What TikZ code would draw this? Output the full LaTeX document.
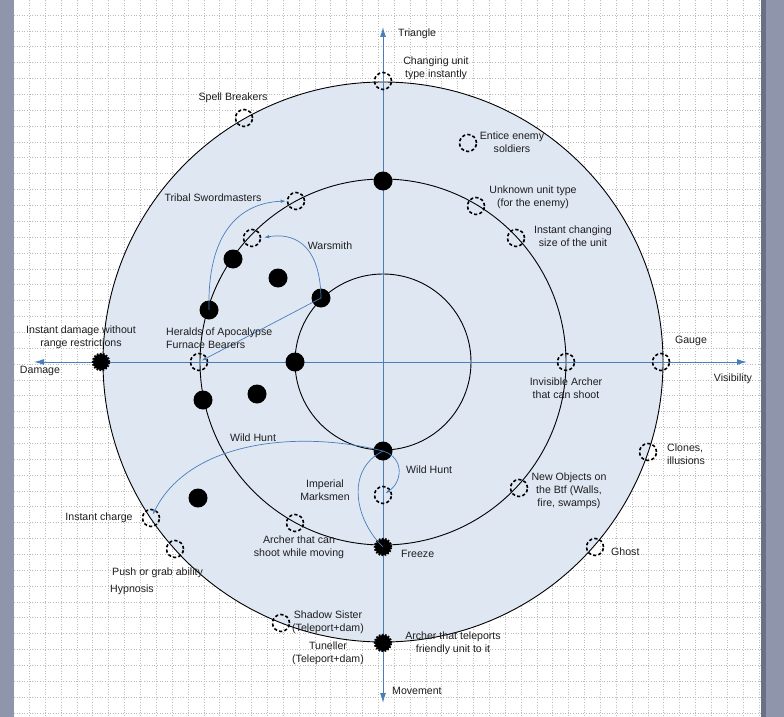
\documentclass[tikz,border=0pt]{standalone}
\usepackage{fontspec}
\setmainfont{Liberation Sans}
\usetikzlibrary{arrows.meta}
\definecolor{axisblue}{HTML}{4A7EBB}
\definecolor{discfill}{HTML}{DFE7F3}
\definecolor{marginc}{HTML}{8F96AB}
\definecolor{margindark}{HTML}{6B7084}
\definecolor{gridc}{HTML}{BDBDBD}
\definecolor{txt}{HTML}{1E1E1E}
\begin{document}
\begin{tikzpicture}[x=1pt,y=-1pt,
  gridline/.style={gridc,line width=0.5pt,dash pattern=on 1pt off 1.6pt},
  ring/.style={black,line width=0.9pt},
  axis/.style={axisblue,line width=1pt,{Latex[length=10pt,width=6pt]}-{Latex[length=10pt,width=6pt]}},
  dot/.style={circle,fill=black,minimum size=19pt,inner sep=0pt},
  jag/.style={circle,fill=black,draw=black,line width=2.4pt,dash pattern=on 1.6pt off 1.4pt,minimum size=16pt,inner sep=0pt},
  hole/.style={circle,draw=black,line width=1.6pt,dash pattern=on 3.2pt off 2.2pt,minimum size=17pt,inner sep=0pt},
  lbl/.style={inner sep=0pt,text=txt,align=center,font=\fontsize{10.6}{13}\selectfont},
  link/.style={axisblue,line width=0.7pt},
  linkarrow/.style={link,-{Latex[length=5pt,width=3.5pt]}}
]
\useasboundingbox (0,0) rectangle (784,717);
% page and margins
\fill[marginc] (0,0) rectangle (784,717);
\fill[white] (14,0) rectangle (761,717);
\fill[margindark] (761,0) rectangle (766,717);
% grid
\foreach \k in {0,...,46} {\draw[gridline] ({29.3+15.86*\k},0) -- ({29.3+15.86*\k},717);}
\foreach \k in {0,...,44} {\draw[gridline] (14,{15+15.86*\k}) -- (761,{15+15.86*\k});}
% disc and rings
\fill[discfill] (383,362) circle[radius=280];
\draw[ring] (383,362) circle[radius=280];
\draw[ring] (383,362) circle[radius=183];
\draw[ring] (383,362) circle[radius=88];
% axes
\coordinate (axL) at (34,362);
\coordinate (axR) at (747,362);
\coordinate (axT) at (383,27);
\coordinate (axB) at (383,703);
\draw[axis] (axL) -- (axR);
\draw[axis] (axT) -- (axB);
% black dots
\node[dot] (d1) at (383,181) {};
\node[dot] (d2) at (321,298) {};
\node[dot] (d3) at (278,278) {};
\node[dot] (d4) at (233,259) {};
\node[dot] (d5) at (209,310) {};
\node[dot] (d6) at (295,362) {};
\node[dot] (d7) at (203,400) {};
\node[dot] (d8) at (257,394) {};
\node[dot] (d9) at (198,498) {};
\node[dot] (d10) at (383,451) {};
\node[jag] (j1) at (101,362) {};
\node[jag] (j2) at (383,547) {};
\node[jag] (j3) at (383,643) {};
% dashed circles
\node[hole] (hchg) at (383,81) {};
\node[hole] (hspell) at (244,118) {};
\node[hole] (hent) at (468,143) {};
\node[hole] (htrib) at (296,201) {};
\node[hole] (hunk) at (476,206) {};
\node[hole] (hwar) at (252,238) {};
\node[hole] (hsize) at (516,238) {};
\node[hole] (hher) at (199,362) {};
\node[hole] (hinv) at (566,362) {};
\node[hole] (hgau) at (661,362) {};
\node[hole] (himp) at (383,495) {};
\node[hole] (hmov) at (295,523) {};
\node[hole] (hic) at (151,518) {};
\node[hole] (hpush) at (175,549) {};
\node[hole] (hnew) at (519,488) {};
\node[hole] (hclo) at (648,452) {};
\node[hole] (hgho) at (595,547) {};
\node[hole] (hsha) at (281,623) {};
% connectors
\draw[linkarrow,shorten >=1pt] (d5.center) .. controls (207,232) and (240,203) .. (htrib.west);
\draw[linkarrow,shorten >=3pt] (d2.center) .. controls (320,240) and (290,233) .. (hwar.east);
\draw[linkarrow,shorten >=3pt] (d2.center) -- (hher.center);
\draw[linkarrow,shorten >=4pt] (d10.center) .. controls (300,430) and (190,440) .. (hic.center);
\draw[linkarrow,shorten >=3pt] (d10.center) .. controls (405,458) and (402,482) .. (himp.center);
\draw[link] (j2.center) .. controls (355,520) and (345,470) .. (d10.center);
% labels
\node[lbl,anchor=west] (tTri) at (398,34) {Triangle};
\node[lbl] (tDam) at (40,371) {Damage};
\node[lbl] (tVis) at (733,379) {Visibility};
\node[lbl,anchor=west] (tMov) at (392,691) {Movement};
\node[lbl] (tChg) at (436,68) {Changing unit\\type instantly};
\node[lbl] (tSpell) at (233,98) {Spell Breakers};
\node[lbl] (tEnt) at (512,142) {Entice enemy\\soldiers};
\node[lbl] (tTrib) at (213,198) {Tribal Swordmasters};
\node[lbl] (tUnk) at (533,197) {Unknown unit type\\(for the enemy)};
\node[lbl] (tWar) at (330,246) {Warsmith};
\node[lbl] (tSize) at (573,236) {Instant changing\\size of the unit};
\node[lbl,anchor=west,align=left] (tHer) at (166,338) {Heralds of Apocalypse\\Furnace Bearers};
\node[lbl] (tInd) at (81,337) {Instant damage without\\range restrictions};
\node[lbl] (tGau) at (691,341) {Gauge};
\node[lbl] (tInv) at (566,388) {Invisible Archer\\that can shoot};
\node[lbl] (tWh1) at (253,438) {Wild Hunt};
\node[lbl,anchor=west] (tWh2) at (406,470) {Wild Hunt};
\node[lbl] (tImp) at (325,490) {Imperial\\Marksmen};
\node[lbl,anchor=west,align=left] (tClo) at (667,454) {Clones,\\illusions};
\node[lbl] (tNew) at (569,491) {New Objects on\\the Btf (Walls,\\fire, swamps)};
\node[lbl] (tIc) at (99,518) {Instant charge};
\node[lbl] (tMovA) at (299,547) {Archer that can\\shoot while moving};
\node[lbl,anchor=west] (tFre) at (401,554) {Freeze};
\node[lbl,anchor=west] (tGho) at (611,552) {Ghost};
\node[lbl,anchor=west] (tPush) at (112,573) {Push or grab ability};
\node[lbl,anchor=west] (tHyp) at (110,590) {Hypnosis};
\node[lbl] (tSha) at (328,622) {Shadow Sister\\(Teleport+dam)};
\node[lbl] (tTun) at (328,653) {Tuneller\\(Teleport+dam)};
\node[lbl] (tTel) at (453,643) {Archer that teleports\\friendly unit to it};
\end{tikzpicture}
\end{document}
